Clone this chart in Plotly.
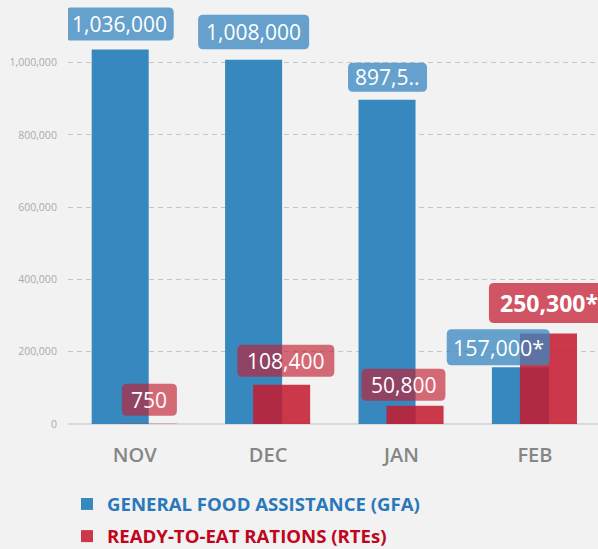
import plotly.graph_objects as go

# ---- data ----
months = ["NOV", "DEC", "JAN", "FEB"]
gfa = [1036000, 1008000, 897500, 157000]
rte = [750, 108400, 50800, 250300]
gfa_text = ["1,036,000", "1,008,000", "897,5..", "157,000*"]
rte_text = ["750", "108,400", "50,800", "250,300*"]
y_ticks = [0, 200000, 400000, 600000, 800000, 1000000]

x_idx = list(range(len(months)))

BLUE = "rgb(56,136,192)"
RED = "rgba(195,28,48,0.87)"
BLUE_LBL = "rgba(56,136,192,0.76)"
RED_LBL = "rgba(195,28,48,0.64)"
RED_LBL_STRONG = "rgba(195,28,48,0.74)"
FONT = "Open Sans"

# label box styling (pixel offsets relative to each bar's category centre / top)
gfa_style = [
    dict(dx=-15, w=108, gap=9, h=33, size=21, bold=False),
    dict(dx=-14.5, w=111, gap=10.5, h=34.5, size=21, bold=False),
    dict(dx=-14, w=79, gap=8, h=29, size=21, bold=False),
    dict(dx=-36.7, w=103, gap=2, h=36, size=21.5, bold=False),
]
rte_style = [
    dict(dx=14.7, w=55, gap=8, h=32, size=21, bold=False, fill=RED_LBL),
    dict(dx=17.7, w=97, gap=8, h=32, size=21, bold=False, fill=RED_LBL),
    dict(dx=1.9, w=84, gap=5, h=32, size=21, bold=False, fill=RED_LBL),
    dict(dx=14, w=120, gap=10.6, h=40, size=23, bold=True, fill=RED_LBL_STRONG),
]


def rounded_path(cx, w, y0, h, r=5):
    x0, x1 = cx - w / 2, cx + w / 2
    y1 = y0 + h
    return (
        f"M{x0 + r},{y0} L{x1 - r},{y0} Q{x1},{y0} {x1},{y0 + r} "
        f"L{x1},{y1 - r} Q{x1},{y1} {x1 - r},{y1} L{x0 + r},{y1} "
        f"Q{x0},{y1} {x0},{y1 - r} L{x0},{y0 + r} Q{x0},{y0} {x0 + r},{y0} Z"
    )


fig = go.Figure()
fig.add_bar(
    x=x_idx, y=gfa,
    name="<span style='color:#2a78bb'><b>GENERAL FOOD ASSISTANCE (GFA)</b></span>",
    marker=dict(color=BLUE, line=dict(width=0)),
    offset=-0.3225, width=0.4275, legendgroup="gfa", hoverinfo="skip",
)
fig.add_bar(
    x=x_idx, y=rte,
    name="<span style='color:#c0051c'><b>READY-TO-EAT RATIONS (RTEs)</b></span>",
    marker=dict(color=RED, line=dict(width=0)),
    offset=-0.1125, width=0.4275, legendgroup="rte", hoverinfo="skip",
)

for vals, texts, styles, fill_default in (
    (gfa, gfa_text, gfa_style, BLUE_LBL),
    (rte, rte_text, rte_style, RED_LBL),
):
    for i, (v, t, st) in enumerate(zip(vals, texts, styles)):
        fill = st.get("fill", fill_default)
        fig.add_shape(
            type="path", xref="x", yref="y",
            xsizemode="pixel", ysizemode="pixel",
            xanchor=x_idx[i], yanchor=v,
            path=rounded_path(st["dx"], st["w"], st["gap"], st["h"]),
            fillcolor=fill, line=dict(width=0), layer="above",
        )
        fig.add_annotation(
            x=x_idx[i], y=v, text=f"<b>{t}</b>" if st["bold"] else t,
            showarrow=False, xshift=st["dx"], yshift=st["gap"] + st["h"] / 2,
            xanchor="center", yanchor="middle",
            font=dict(family=FONT, size=st["size"], color="white"),
        )

fig.update_layout(
    width=598, height=549,
    margin=dict(l=68, r=0, t=0, b=124.5, autoexpand=False),
    paper_bgcolor="#f2f2f2", plot_bgcolor="#f2f2f2",
    barmode="overlay",
    showlegend=True,
    legend=dict(
        x=(67 - 68) / 530, y=-131.5 / 424.5, xanchor="left", yanchor="bottom",
        orientation="v", traceorder="grouped", tracegroupgap=5,
        font=dict(family=FONT, size=18.6), bgcolor="rgba(0,0,0,0)",
        itemwidth=30,
    ),
    font=dict(family=FONT),
    xaxis=dict(
        range=[-0.5, 3 + (598 - 535) / 133.3],
        tickmode="array", tickvals=x_idx, ticktext=months,
        showgrid=False, zeroline=False, showline=False,
        ticks="outside", ticklen=13, tickcolor="rgba(0,0,0,0)",
        tickfont=dict(family=FONT, size=20, color="#868686", weight=600),
        fixedrange=True,
    ),
    yaxis=dict(
        range=[0, 1000000 * 424.5 / 361.8],
        tickmode="array", tickvals=y_ticks,
        tickformat=",",
        showgrid=True, gridcolor="#c6c6c6", gridwidth=1, griddash="5px,4px",
        zeroline=True, zerolinecolor="#d9d9d9", zerolinewidth=2,
        showline=False,
        ticks="outside", ticklen=8, tickcolor="rgba(0,0,0,0)",
        tickfont=dict(family=FONT, size=10.5, color="#aaaaaa"),
        fixedrange=True,
    ),
)

fig.write_html(
    "out.html",
    config={"displayModeBar": False},
    post_script="document.body.style.margin='0';document.body.style.overflow='hidden';",
)
